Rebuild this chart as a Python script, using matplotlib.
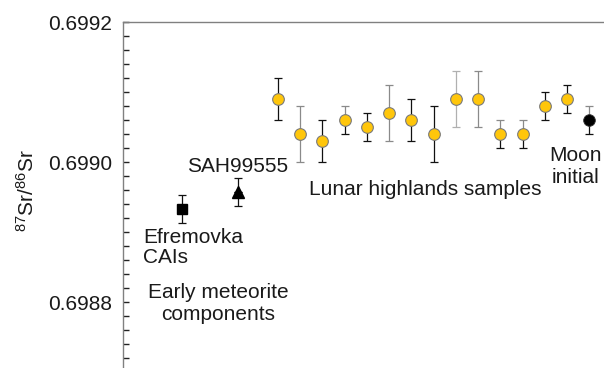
import matplotlib
matplotlib.use("Agg")
import matplotlib.pyplot as plt
from matplotlib.ticker import MultipleLocator, FormatStrFormatter

plt.rcParams['font.family'] = ['Liberation Sans', 'DejaVu Sans']
plt.rcParams['mathtext.fontset'] = 'custom'
plt.rcParams['mathtext.rm'] = 'Liberation Sans'
plt.rcParams['mathtext.it'] = 'Liberation Sans:italic'

# Sample positions along the horizontal axis (arbitrary ordering units)
efremovka_x = -3.3
sah_x = -0.8
lunar_x = list(range(1, 15))
moon_x = 15

# 87Sr/86Sr ratios and 2-sigma uncertainties
efremovka_value = 0.698933
efremovka_err = 0.00002
sah_value = 0.698957
sah_err = 0.00002
lunar_values = [0.69909, 0.69904, 0.69903, 0.69906, 0.69905, 0.69907, 0.69906,
                0.69904, 0.69909, 0.69909, 0.69904, 0.69904, 0.69908, 0.69909]
lunar_errors = [0.00003, 0.00004, 0.00003, 0.00002, 0.00002, 0.00004, 0.00003,
                0.00004, 0.00004, 0.00004, 0.00002, 0.00002, 0.00002, 0.00002]
moon_value = 0.69906
moon_err = 0.00002

BLK = '#111111'
GRY = '#8a8a8a'
LGR = '#b0b0b0'
upper_colors = [BLK, GRY, BLK, GRY, BLK, GRY, BLK, BLK, LGR, GRY, GRY, GRY, BLK, BLK]
lower_colors = [BLK, GRY, BLK, BLK, BLK, GRY, BLK, BLK, LGR, GRY, BLK, BLK, BLK, BLK]

TXT = '#1a1a1a'
FS = 15

fig = plt.figure(figsize=(6.04, 3.68), dpi=100)
ax = fig.add_axes([123 / 604, -0.0117, 1 - 123 / 604, 350 / 368])
ax.set_xlim(-5.966, 15.652)
ax.set_ylim(0.6987, 0.6992)

eb = dict(elinewidth=0.9, capsize=3.2, capthick=0.9, fmt='none', zorder=2)


def split_bar(x, y, e, cu, cl):
    ax.errorbar([x], [y], yerr=[[0], [e]], ecolor=cu, **eb)
    ax.errorbar([x], [y], yerr=[[e], [0]], ecolor=cl, **eb)


for x, y, e, cu, cl in zip(lunar_x, lunar_values, lunar_errors, upper_colors, lower_colors):
    split_bar(x, y, e, cu, cl)
ax.plot(lunar_x, lunar_values, 'o', ms=8.4, mfc='#ffc60b', mec='#7a7a7a', mew=0.8,
        ls='none', zorder=3)

split_bar(moon_x, moon_value, moon_err, GRY, BLK)
ax.plot([moon_x], [moon_value], 'o', ms=8.4, mfc='black', mec='#333333', mew=0.6, zorder=3)

split_bar(efremovka_x, efremovka_value, efremovka_err, BLK, BLK)
ax.plot([efremovka_x], [efremovka_value], 's', ms=7.2, mfc='black', mec='black', zorder=3)

split_bar(sah_x, sah_value, sah_err, BLK, BLK)
ax.plot([sah_x], [sah_value], '^', ms=8.5, mfc='black', mec='black', zorder=3)

# Labels (baseline of the last line given for multi-line labels)
ax.text(sah_x, 0.6989866, 'SAH99555', ha='center', va='baseline', fontsize=FS, color=TXT)
ax.text(-5.05, 0.6988566, 'Efremovka\nCAIs', ha='left', va='baseline', fontsize=FS,
        color=TXT, linespacing=1.05)
ax.text(-1.70, 0.6987747, 'Early meteorite\ncomponents', ha='center', va='baseline',
        fontsize=FS, color=TXT, linespacing=1.2, multialignment='center')
ax.text(7.61, 0.6989533, 'Lunar highlands samples', ha='center', va='baseline',
        fontsize=FS, color=TXT)
ax.text(14.39, 0.69897, 'Moon\ninitial', ha='center', va='baseline', fontsize=FS,
        color=TXT, linespacing=1.25, multialignment='center')

# Axes styling
for side in ('right', 'bottom'):
    ax.spines[side].set_visible(False)
for side in ('left', 'top'):
    ax.spines[side].set_color('#808080')
    ax.spines[side].set_linewidth(1.0)

ax.set_xticks([])
ax.yaxis.set_major_locator(MultipleLocator(0.0002))
ax.yaxis.set_minor_locator(MultipleLocator(0.00002))
ax.yaxis.set_major_formatter(FormatStrFormatter('%.4f'))
ax.tick_params(axis='y', which='major', direction='in', length=4.5, width=1.0,
               color='#222222', labelsize=FS, labelcolor=TXT, pad=8)
ax.tick_params(axis='y', which='minor', direction='in', length=4.5, width=1.0,
               color='#222222')

fig.text(27 / 604, 1 - 190 / 368, r'$^{87}$Sr/$^{86}$Sr', rotation=90, ha='center',
         va='center', fontsize=FS, color=TXT)

fig.savefig('out.png', dpi=100)
